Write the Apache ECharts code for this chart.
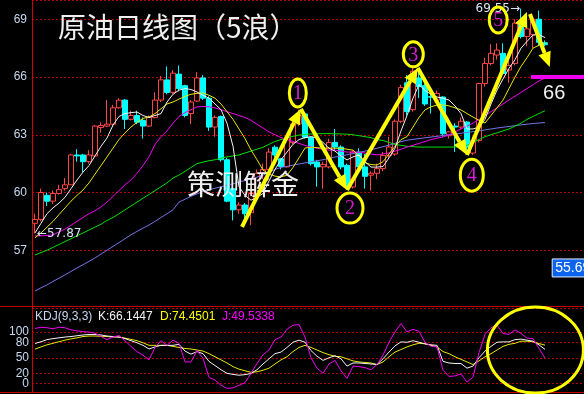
<!DOCTYPE html>
<html><head><meta charset="utf-8">
<script src="https://cdn.jsdelivr.net/npm/echarts@6/dist/echarts.min.js"></script>
<style>html,body{margin:0;padding:0;background:#000;}#c{width:584px;height:394px;}</style>
</head><body><div id="c"></div>
<script>
// ---- data ----
const categories = [];
for (let i = 1; i <= 92; i++) categories.push('D' + i);

const opens  = [58.4,58.6,59.85,59.55,59.95,60.2,60.4,61.95,61.95,61.6,61.9,63.38,63.45,63.55,64.4,64.8,63.8,64.0,63.75,63.45,63.9,64.8,65.85,65.2,66.15,65.55,64.1,64.75,65.95,64.9,63.4,63.95,61.7,60.2,59.1,59.35,58.95,59.95,61.0,61.2,62.35,61.75,61.33,62.6,63.56,64.08,62.87,61.58,61.33,61.33,62.6,62.36,61.41,60.29,62.1,61.33,60.9,61.0,61.24,61.93,62.0,63.7,65.7,64.3,65.95,65.55,64.98,64.8,64.96,62.95,63.45,63.4,63.66,62.05,62.7,65.66,66.7,67.14,67.23,66.36,66.7,68.8,68.1,68.2,69.0,67.78];
const closes = [58.6,60.0,59.55,59.95,60.15,60.4,61.95,61.9,61.6,61.95,63.45,63.48,63.55,64.4,64.8,63.8,64.0,63.65,63.45,63.9,64.8,65.85,65.2,66.2,65.4,64.0,64.7,65.95,64.9,63.4,63.9,61.7,59.55,59.1,59.35,58.9,59.95,61.0,61.2,62.1,61.95,61.35,62.87,63.56,64.0,62.87,61.5,61.33,61.46,62.6,62.36,61.33,60.29,62.1,61.33,60.84,61.0,61.24,61.93,62.36,63.7,65.45,64.2,66.3,65.5,64.6,64.95,65.15,63.05,63.15,63.4,63.7,62.36,62.7,65.66,66.7,67.23,67.4,66.18,66.6,68.8,68.1,68.5,69.0,67.8,67.68];
const lows   = [57.87,58.5,59.3,59.4,59.9,60.1,60.4,61.6,61.05,61.5,61.85,63.1,63.4,63.45,64.35,63.3,63.75,63.55,62.8,63.4,63.85,64.7,65.1,65.1,65.25,63.9,63.55,64.7,64.8,63.2,62.9,61.6,59.5,58.55,58.9,58.5,58.3,59.9,60.7,61.1,61.8,61.2,61.3,62.5,63.45,62.8,61.4,60.3,60.2,61.25,62.2,61.2,60.2,60.2,61.2,60.2,60.1,60.7,61.1,61.8,61.9,63.6,64.0,64.2,64.9,64.5,64.1,64.7,62.9,62.8,62.1,63.3,62.0,61.95,62.6,65.5,66.6,66.9,66.1,65.7,66.6,68.0,67.6,67.5,67.6,67.6];
const highs  = [58.9,60.2,60.0,60.1,60.4,60.75,62.0,62.25,62.0,62.2,63.5,63.65,64.8,64.55,64.9,64.85,64.25,64.25,63.9,64.0,65.2,66.05,66.55,66.35,66.6,65.6,64.8,66.25,66.1,65.0,64.0,64.0,61.8,60.3,59.5,59.45,60.0,61.2,61.5,62.3,62.45,61.8,62.95,63.7,64.3,64.15,62.9,61.7,61.6,62.8,63.3,62.45,61.5,62.2,62.3,62.0,61.1,61.5,62.1,62.9,63.8,65.6,66.1,66.5,66.45,65.7,65.4,65.3,65.0,63.2,63.6,63.9,63.7,62.9,65.7,67.0,67.7,67.75,67.75,66.9,69.0,69.55,68.8,69.1,69.45,67.9];

const maWhite  = [57.9,58.4,58.9,59.2,59.45,59.75,60.2,60.65,61.06,61.4,61.9,62.4,62.83,63.5,63.95,64.1,64.15,64.18,64.0,63.9,64.0,64.1,64.7,65.1,65.32,65.4,65.35,65.22,65.05,64.9,64.6,64.3,63.6,62.4,60.3,59.85,59.6,59.75,59.95,60.6,61.2,61.7,62.1,62.5,62.75,62.85,62.9,62.85,62.6,62.3,62.15,61.9,61.69,61.85,61.95,61.6,61.32,61.32,61.35,61.8,62.3,63.2,64.0,64.9,65.6,65.3,65.1,64.96,64.9,64.8,64.5,64.1,63.3,63.3,63.4,63.8,64.6,65.32,65.9,66.45,66.9,67.5,67.85,68.18,68.2,68.05];
const maYellow = [57.65,57.9,58.2,58.5,58.85,59.2,59.55,59.85,60.13,60.5,60.95,61.4,61.85,62.3,62.75,63.1,63.4,63.65,63.85,63.92,64.1,64.35,64.6,64.7,64.85,65.0,65.1,65.15,65.17,65.05,64.9,64.6,64.2,63.8,63.3,62.8,62.21,61.7,61.17,60.95,60.85,60.81,60.9,61.3,61.8,62.31,62.35,62.33,62.3,62.31,62.3,62.3,62.25,62.2,61.9,61.55,61.45,61.43,61.6,62.0,62.4,62.75,62.9,63.4,63.9,64.29,64.45,64.55,64.55,64.5,64.4,64.29,64.1,63.92,63.75,63.61,64.0,64.4,64.8,65.4,66.0,66.55,67.0,67.5,67.65,67.77];
const maMagenta= [57.75,57.75,57.77,57.8,57.95,58.1,58.3,58.5,58.7,58.9,59.05,59.25,59.5,59.8,60.1,60.4,60.65,61.0,61.4,61.85,62.5,62.9,63.2,63.6,63.95,64.15,64.3,64.45,64.47,64.45,64.4,64.3,64.2,64.1,64.0,63.9,63.75,63.55,63.35,63.15,63.0,62.85,62.75,62.65,62.55,62.45,62.36,62.3,62.25,62.2,62.2,62.15,62.1,62.1,62.1,62.05,62.0,61.95,62.0,62.05,62.15,62.25,62.36,62.45,62.55,62.65,62.75,62.82,62.88,63.0,63.15,63.3,63.45,63.6,63.8,64.0,64.2,64.4,64.6,64.81,65.0,65.2,65.4,65.6,65.8,65.95];
const maGreen  = [56.75,56.88,57.0,57.15,57.3,57.45,57.6,57.75,57.9,58.05,58.2,58.35,58.55,58.7,58.9,59.1,59.3,59.5,59.7,59.9,60.1,60.3,60.5,60.75,60.91,61.1,61.3,61.5,61.58,61.65,61.7,61.78,61.85,61.9,61.95,62.05,62.15,62.25,62.35,62.5,62.65,62.75,62.85,62.92,62.98,63.02,63.04,63.05,63.06,63.06,63.05,63.04,63.03,63.0,62.95,62.9,62.85,62.75,62.7,62.6,62.5,62.45,62.4,62.38,62.36,62.36,62.36,62.36,62.36,62.36,62.36,62.38,62.45,62.6,62.75,62.9,63.0,63.1,63.2,63.3,63.45,63.6,63.8,63.95,64.1,64.25];
const maBlue   = [54.88,55.05,55.2,55.38,55.55,55.72,55.9,56.08,56.25,56.42,56.6,56.8,57.0,57.2,57.4,57.6,57.8,57.98,58.15,58.31,58.5,58.7,58.9,59.1,59.5,59.65,59.8,59.93,60.05,60.15,60.22,60.3,60.38,60.45,60.55,60.62,60.7,60.8,60.9,61.05,61.2,61.3,61.36,61.42,61.48,61.54,61.6,61.65,61.7,61.78,61.84,61.9,61.96,62.02,62.08,62.15,62.22,62.3,62.38,62.46,62.55,62.64,62.72,62.76,62.8,62.84,62.88,62.92,62.96,63.0,63.04,63.08,63.12,63.16,63.2,63.25,63.3,63.35,63.39,63.43,63.47,63.51,63.55,63.58,63.61,63.63];

const kdjK = [77.6,81,85,87,88.5,90,91,92.5,94,95,95,94,92,91,90,87,83,79,74,67,71,74,74,74,76,63,57,62,58,43,35,27,20,18,16.4,17.5,19.7,27,38,48,58,61,70,80,84,80,64,53,45,50,54,48,34,40,40,39,38,37,48,61,73,80.7,80,83,80,77,75,74,43,40,39,39,30,34,50,63,72,80,80.7,80.7,85,86,84,82,75,66.1447];
const kdjD = [66.6,71,75,78,81,84,86.5,88.5,91,92,92,91.5,91,90,90,88,85.5,83,79,74,74,74,74,72,70,68,67,65,63,58,52,46,40,33,28,25,22,23,26,30,38,46,52,62,70,74,70,65,60,56,53,52,48,44,42,41,40,37,42,52,61,66,71,75,78,77,74,71,62,58,52,47,42,37,44,52,58,65,72,76,78,82,82,81,77.5,74.4501];
const kdjJ = [106.5,109,108,106,109,108,104,102,100.5,99.5,97.5,91,85,90,93,83,72,62,55,46,70,83,74,84,78,42,42,64,49,12,7,-3,-9,-8,-3,2,20,39,56,65,85,90,105,113,114,90,50,30,20,38,45,25,10,34,33,31,27,37,55,80,100,116,100,105,101,80,72,71,26,14,15,19,3,13,60,95,108,113,97,95,104,97,88,87,68,49.5338];
const kdjLevels = [0, 20, 50, 80, 100];

// annotations anchored on [candle index, price]
const wavePath   = [[34.5,58.21],[44.3,64.34],[52,60.13],[63.8,66.47],[72,61.95],[82,69.38]];
const finalArrow = [[82.5,69.27],[85.8,66.52]];
const waveLabels = ['1','2','3','4','5'];
const waveLabelAt= [[43.8,65.17],[52.5,59.19],[63.05,67.18],[72.8,60.9],[77.2,68.96]];
const highMark = {index: 81, value: 69.55};
const lowMark  = {index: 0, value: 57.87};
const targetLevel = 66;
const lastTag = '55.69';

// ---- chart ----
const chart = echarts.init(document.getElementById('c'));
const candleData = opens.map((o, i) => [o, closes[i], lows[i], highs[i]]);
const hidX = (g) => ({type:'category', gridIndex:g, data:categories, boundaryGap:true,
  axisLine:{show:false}, axisTick:{show:false}, axisLabel:{show:false}, splitLine:{show:false}});
const maLine = (data, color) => ({type:'line', xAxisIndex:0, yAxisIndex:0, data, symbol:'none',
  showSymbol:false, silent:true, z:5, lineStyle:{color, width:1}});
const kLine = (data, color, extra) => Object.assign({type:'line', xAxisIndex:1, yAxisIndex:1, data,
  symbol:'none', showSymbol:false, silent:true, z:5, lineStyle:{color, width:1}}, extra || {});

chart.setOption({
  backgroundColor:'#000',
  animation:false,
  grid:[{left:32, right:0, top:0, height:308}, {left:32, right:0, top:307, height:85}],
  xAxis:[hidX(0), hidX(1)],
  yAxis:[
    {type:'value', gridIndex:0, min:54, max:70, interval:3,
     axisLine:{show:true, lineStyle:{color:'#d00000', width:1}}, axisTick:{show:false},
     axisLabel:{color:'#c8d8f0', fontSize:12, fontFamily:'Liberation Sans', margin:5,
                showMinLabel:false, showMaxLabel:false},
     splitLine:{show:true, lineStyle:{color:'#b00000', width:1, type:[2,2]}}},
    {type:'value', gridIndex:1, min:-16, max:148,
     axisLine:{show:true, lineStyle:{color:'#d00000', width:1}}, axisTick:{show:false},
     axisLabel:{show:false}, splitLine:{show:false}}
  ],
  series:[
    {type:'candlestick', xAxisIndex:0, yAxisIndex:0, data:candleData, barWidth:5, z:3,
     itemStyle:{color:'#000', color0:'#00ffff', borderColor:'#ff4646', borderColor0:'#00ffff', borderWidth:1}},
    maLine(maBlue, '#7474e8'),
    maLine(maGreen, '#00e000'),
    maLine(maMagenta, '#f000f0'),
    maLine(maYellow, '#e8e800'),
    maLine(maWhite, '#f4f4f4'),
    kLine(kdjD, '#e8e800', {markLine:{silent:true, symbol:'none', animation:false,
      lineStyle:{color:'#b00000', width:1, type:[2,2]},
      label:{position:'start', distance:3, color:'#c8d8f0', fontSize:12, fontFamily:'Liberation Sans',
             formatter:(p)=>String(p.value)},
      data:kdjLevels.map(v=>({yAxis:v}))}}),
    kLine(kdjK, '#f4f4f4'),
    kLine(kdjJ, '#f000f0')
  ]
});

// ---- annotations placed through the axes ----
const xa = chart.convertToPixel({xAxisIndex:0}, categories[0]);
const xb = chart.convertToPixel({xAxisIndex:0}, categories[1]);
const dx = xb - xa;
function pt(i, v, g) { return [xa + i*dx, chart.convertToPixel({yAxisIndex:g||0}, v)]; }
const Y = '#ffff00';
function arrow(a, b) {
  const ang = Math.atan2(b[1]-a[1], b[0]-a[0]);
  const L = 15, W = 6.5;
  const bx = b[0] - L*Math.cos(ang), by = b[1] - L*Math.sin(ang);
  const px = -Math.sin(ang), py = Math.cos(ang);
  return [
    {type:'line', z:100, shape:{x1:a[0], y1:a[1], x2:bx, y2:by}, style:{stroke:Y, lineWidth:4}},
    {type:'polygon', z:100, shape:{points:[b, [bx+px*W, by+py*W], [bx-px*W, by-py*W]]}, style:{fill:Y}}
  ];
}
const g = [];
// frame lines
g.push({type:'line', z:50, shape:{x1:0, y1:306.5, x2:584, y2:306.5}, style:{stroke:'#c80000', lineWidth:1}});
g.push({type:'line', z:50, shape:{x1:0, y1:392.5, x2:584, y2:392.5}, style:{stroke:'#c80000', lineWidth:1}});
// title & watermark
g.push({type:'text', z:100, style:{text:'原油日线图（5浪）', x:58, y:27, verticalAlign:'middle',
  fill:'#f0f0f0', font:'28px "Noto Sans CJK SC"'}});
g.push({type:'text', z:100, style:{text:'策测解金', x:187, y:184, verticalAlign:'middle',
  fill:'#eeeeee', font:'28px "Noto Sans CJK SC"'}});
// wave arrows
for (let k = 0; k < wavePath.length-1; k++) {
  g.push(...arrow(pt(wavePath[k][0], wavePath[k][1]), pt(wavePath[k+1][0], wavePath[k+1][1])));
}
g.push(...arrow(pt(finalArrow[0][0], finalArrow[0][1]), pt(finalArrow[1][0], finalArrow[1][1])));
// wave labels
const radii = [[8.5,14],[13,15],[10,12.5],[11.5,16],[9,13]];
waveLabels.forEach((t, k) => {
  const c = pt(waveLabelAt[k][0], waveLabelAt[k][1]);
  g.push({type:'ellipse', z:101, shape:{cx:c[0], cy:c[1], rx:radii[k][0], ry:radii[k][1]},
    style:{fill:'transparent', stroke:Y, lineWidth:3}});
  g.push({type:'text', z:102, style:{text:t, x:c[0], y:c[1]+1, align:'center', verticalAlign:'middle',
    fill:'#d020d0', font:'20px "Liberation Serif"'}});
});
// high / low marks
const hp = pt(highMark.index, highMark.value);
g.push({type:'text', z:100, style:{text:highMark.value.toFixed(2)+'→', x:hp[0]-1, y:hp[1],
  align:'right', verticalAlign:'middle', fill:'#d8e4f4', font:'12px "DejaVu Sans"'}});
const lp = pt(lowMark.index, lowMark.value);
g.push({type:'text', z:100, style:{text:'←'+lowMark.value.toFixed(2), x:lp[0]+2, y:lp[1],
  align:'left', verticalAlign:'middle', fill:'#d8e4f4', font:'12px "DejaVu Sans"'}});
// target 66
const tp = pt(82.67, targetLevel);
g.push({type:'rect', z:100, shape:{x:tp[0], y:tp[1]-2, width:584-tp[0], height:4}, style:{fill:'#f000f0'}});
g.push({type:'text', z:100, style:{text:String(targetLevel), x:tp[0]+12, y:tp[1]+16, verticalAlign:'middle',
  fill:'#f0f0f0', font:'20px "Liberation Sans"'}});
// last-value tag
const lt = pt(86.2, 56.08);
g.push({type:'rect', z:100, shape:{x:lt[0], y:lt[1]-9, width:40, height:18}, style:{fill:'#0a64f0', stroke:'#e8eeff', lineWidth:1}});
g.push({type:'text', z:101, style:{text:lastTag, x:lt[0]+3, y:lt[1], verticalAlign:'middle',
  fill:'#ffffff', font:'14px "Liberation Sans"'}});
// KDJ legend
const kdjTexts = [['KDJ(9,3,3)', '#c8d8f0', 35], ['K:66.1447', '#f4f4f4', 98], ['D:74.4501', '#ffff00', 160], ['J:49.5338', '#ff00ff', 222]];
kdjTexts.forEach(t => g.push({type:'text', z:100, style:{text:t[0], x:t[2], y:317, verticalAlign:'middle',
  fill:t[1], font:'12px "Liberation Sans"'}}));
// KDJ ellipse
const kc = pt(83.4, 64.8, 1);
g.push({type:'ellipse', z:100, shape:{cx:kc[0], cy:kc[1], rx:48, ry:43}, style:{fill:'transparent', stroke:Y, lineWidth:3}});

chart.setOption({graphic:{elements:g}});
</script></body></html>
